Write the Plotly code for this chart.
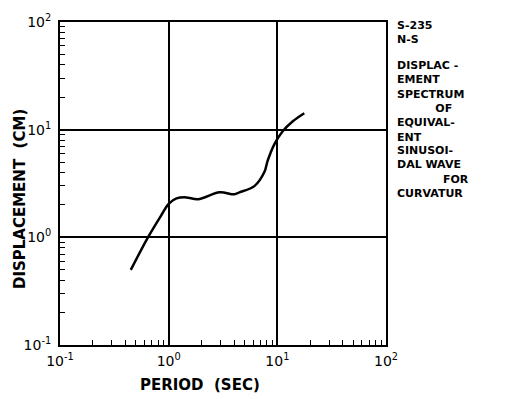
import plotly.graph_objects as go

# Data
period = [0.448, 0.645, 0.86, 1.0, 1.18, 1.45, 1.86, 2.94, 4.03, 4.48, 6.15, 7.6, 8.15, 9.38, 11.2, 13.8, 17.7]
displacement = [0.498, 1.0, 1.62, 2.05, 2.3, 2.35, 2.26, 2.62, 2.51, 2.62, 2.99, 4.04, 5.15, 7.3, 9.66, 11.9, 14.2]

major_vals = [0.1, 1, 10, 100]
major_text = ["10<sup>-1</sup>", "10<sup>0</sup>", "10<sup>1</sup>", "10<sup>2</sup>"]
minor_vals = [m * d for d in [0.1, 1, 10] for m in range(2, 10)]

NB = "&nbsp;"
side_groups = [
    ["S-235", "N-S"],
    ["DISPLAC -", "EMENT", "SPECTRUM", NB * 10 + "OF", "EQUIVAL-", "ENT"],
    ["SINUSOI-", "DAL WAVE", NB * 12 + "FOR", "CURVATUR"],
]
side_group_y_px = [23.5, 95, 167]

W, H = 508, 399
L, R, T, B = 60, 386, 13, 345
FONT = "DejaVu Sans"

fig = go.Figure()
fig.add_trace(go.Scatter(
    x=period, y=displacement, mode="lines",
    line=dict(color="black", width=2.5, shape="spline", smoothing=1.0),
    showlegend=False, hoverinfo="skip"))

axis_common = dict(
    type="log", tickmode="array", tickvals=major_vals, ticktext=major_text,
    showgrid=True, gridcolor="black", gridwidth=1.5,
    showline=True, linecolor="black", linewidth=2, mirror=True,
    ticks="", zeroline=False,
    tickfont=dict(family=FONT, size=14, color="black"),
    minor=dict(tickmode="array", tickvals=minor_vals, ticks="inside",
               ticklen=5, tickwidth=1.2, tickcolor="black", showgrid=False),
)
fig.update_xaxes(range=[-1, 2], ticklabelstandoff=2, **axis_common)
fig.update_yaxes(range=[-1, 2], ticklabelstandoff=4, **axis_common)

pw, ph = R - L, B - T


def px(x):
    return (x - L) / pw


def py(y):
    return (B - y) / ph


ann = []
for lines, yp in zip(side_groups, side_group_y_px):
    ann.append(dict(text="<br>".join(lines), x=px(395), y=py(yp), xref="paper", yref="paper",
                    xanchor="left", yanchor="middle", align="left", showarrow=False,
                    font=dict(family=FONT, size=11, color="black", weight="bold")))
ann.append(dict(text="PERIOD  (SEC)", x=px(200), y=py(386), xref="paper", yref="paper",
                xanchor="center", yanchor="middle", showarrow=False,
                font=dict(family=FONT, size=15, color="black", weight="bold")))
ann.append(dict(text="DISPLACEMENT  (CM)", x=px(20), y=py(195), xref="paper", yref="paper",
                xanchor="center", yanchor="middle", showarrow=False, textangle=-90,
                font=dict(family=FONT, size=15, color="black", weight="bold")))

fig.update_layout(
    width=W, height=H,
    margin=dict(l=L, r=W - R, t=T, b=H - B, pad=0),
    paper_bgcolor="white", plot_bgcolor="white",
    annotations=ann,
)

fig.write_html("out.html")
